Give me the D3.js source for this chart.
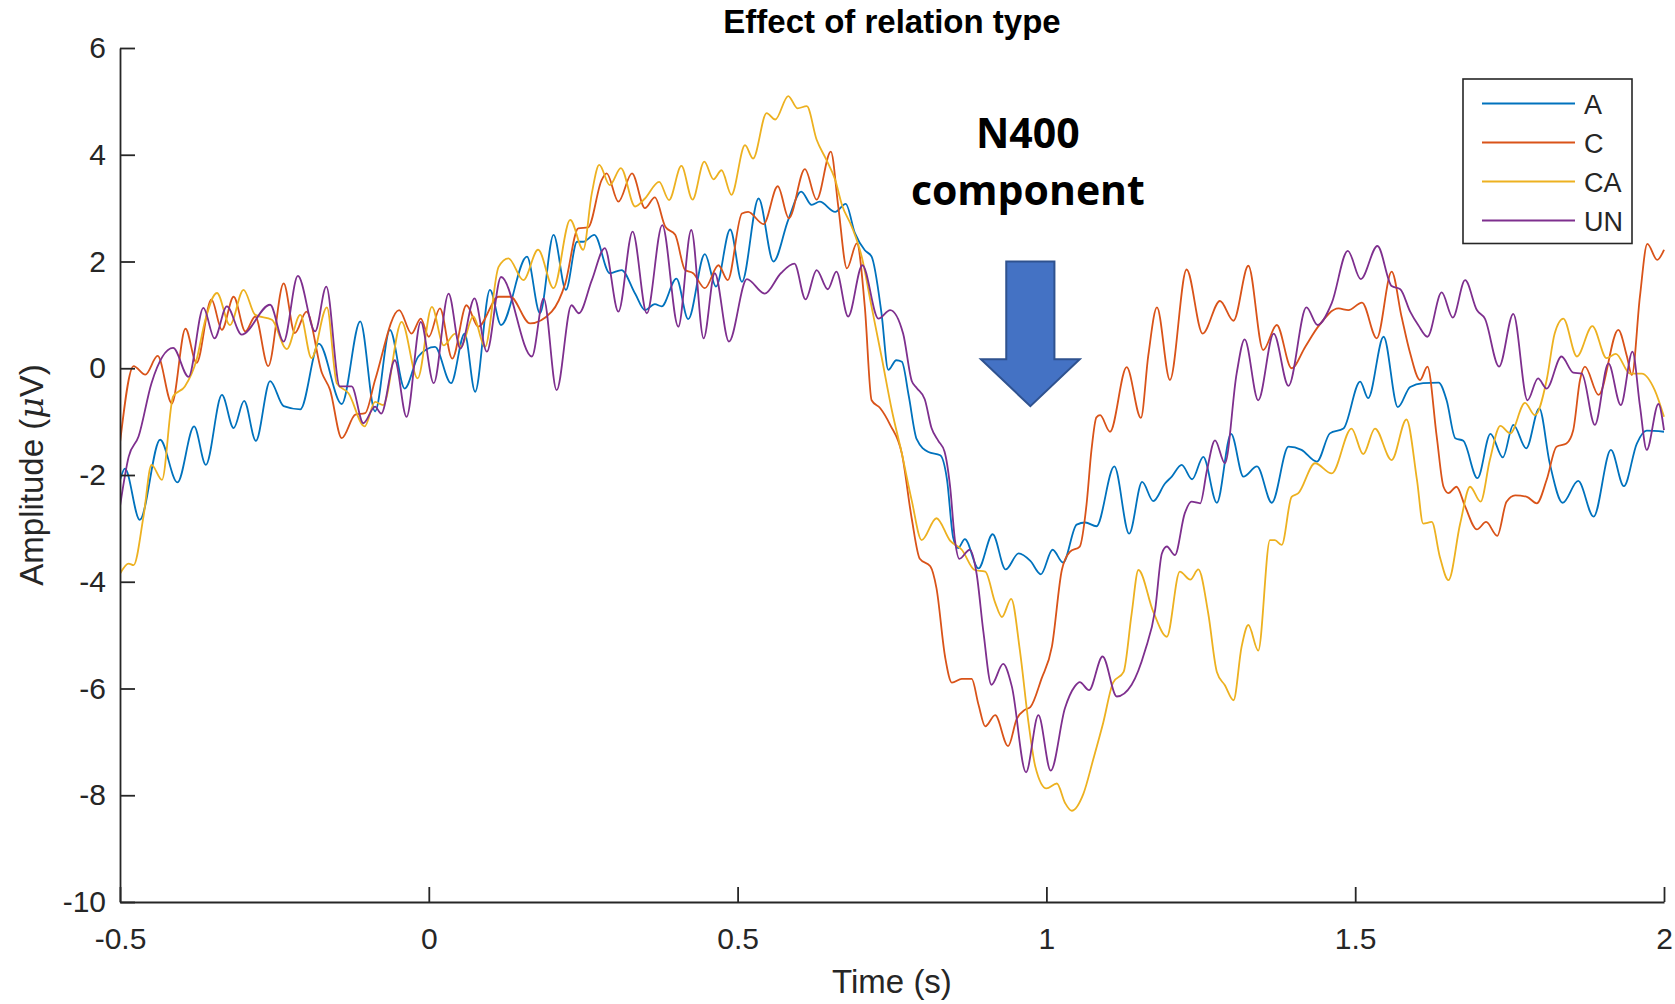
<!DOCTYPE html>
<html>
<head>
<meta charset="utf-8">
<script src="https://cdn.jsdelivr.net/npm/d3@7"></script>
<style>
  html, body { margin: 0; padding: 0; background: #ffffff; }
  svg { display: block; }
</style>
</head>
<body>
<script>
// ---------- DATA ----------
const seriesNames = ["A", "C", "CA", "UN"];
const seriesColors = ["#0072BD", "#D95319", "#EDB120", "#7E2F8E"];

const xTickValues = [-0.5, 0, 0.5, 1, 1.5, 2];
const xTickLabels = ["-0.5", "0", "0.5", "1", "1.5", "2"];
const yTickValues = [-10, -8, -6, -4, -2, 0, 2, 4, 6];
const yTickLabels = ["-10", "-8", "-6", "-4", "-2", "0", "2", "4", "6"];

// [time (s), amplitude (uV)]
const seriesA = [
[-0.500,-2.10],[-0.492,-1.88],[-0.468,-2.84],[-0.435,-1.34],[-0.407,-2.14],[-0.380,-1.09],[-0.361,-1.81],
[-0.335,-0.50],[-0.316,-1.12],[-0.299,-0.61],[-0.280,-1.36],[-0.257,-0.24],[-0.235,-0.71],[-0.208,-0.77],
[-0.178,0.46],[-0.141,-0.67],[-0.111,0.88],[-0.087,-0.81],[-0.063,0.72],[-0.039,-0.38],[-0.017,0.22],
[0.010,0.40],[0.036,-0.28],[0.058,0.65],[0.075,-0.44],[0.099,1.47],[0.117,0.81],[0.159,2.09],[0.180,1.03],
[0.202,2.50],[0.222,1.47],[0.240,2.37],[0.250,2.37],[0.268,2.50],[0.293,1.78],[0.312,1.84],[0.334,1.40],
[0.350,1.09],[0.366,1.20],[0.377,1.16],[0.401,1.68],[0.420,0.92],[0.447,2.14],[0.465,1.53],[0.488,2.60],
[0.507,1.62],[0.534,3.18],[0.558,2.00],[0.582,2.78],[0.603,3.31],[0.620,3.06],[0.633,3.12],[0.658,2.93],
[0.675,3.08],[0.690,2.53],[0.706,2.21],[0.717,2.09],[0.733,1.03],[0.744,-0.03],[0.757,0.15],[0.766,0.12],
[0.777,-0.51],[0.790,-1.33],[0.809,-1.57],[0.828,-1.63],[0.839,-2.08],[0.849,-3.17],[0.857,-3.37],[0.868,-3.20],
[0.890,-3.75],[0.913,-3.11],[0.934,-3.77],[0.955,-3.47],[0.974,-3.61],[0.991,-3.86],[1.010,-3.40],[1.027,-3.64],
[1.049,-2.93],[1.063,-2.89],[1.081,-2.96],[1.110,-1.84],[1.134,-3.10],[1.155,-2.13],[1.173,-2.49],[1.192,-2.16],
[1.203,-2.03],[1.219,-1.81],[1.236,-2.08],[1.254,-1.66],[1.276,-2.52],[1.299,-1.23],[1.319,-2.03],[1.341,-1.84],
[1.365,-2.52],[1.392,-1.47],[1.413,-1.53],[1.438,-1.75],[1.459,-1.22],[1.481,-1.13],[1.508,-0.25],[1.521,-0.56],
[1.546,0.59],[1.569,-0.73],[1.589,-0.35],[1.610,-0.28],[1.635,-0.27],[1.648,-0.60],[1.662,-1.31],[1.675,-1.36],
[1.698,-2.06],[1.719,-1.23],[1.739,-1.67],[1.756,-1.06],[1.777,-1.50],[1.798,-0.75],[1.815,-1.78],[1.836,-2.52],
[1.861,-2.11],[1.886,-2.78],[1.914,-1.53],[1.935,-2.21],[1.956,-1.41],[1.972,-1.17],[2.000,-1.19]
];

const seriesC = [
[-0.500,-1.40],[-0.478,0.04],[-0.459,-0.12],[-0.439,0.23],[-0.416,-0.66],[-0.394,0.74],[-0.376,0.10],
[-0.352,1.29],[-0.335,0.72],[-0.316,1.34],[-0.297,0.69],[-0.281,0.97],[-0.260,0.04],[-0.235,1.59],[-0.217,0.66],
[-0.198,1.06],[-0.173,-0.09],[-0.160,-0.40],[-0.141,-1.31],[-0.119,-0.87],[-0.103,-0.84],[-0.087,-0.22],
[-0.048,1.09],[-0.028,0.65],[-0.013,0.93],[0.000,0.59],[0.018,1.12],[0.038,0.18],[0.061,1.18],[0.080,0.78],
[0.113,1.34],[0.132,1.34],[0.164,0.84],[0.199,1.06],[0.221,1.59],[0.242,2.62],[0.258,2.64],[0.280,3.53],
[0.288,3.65],[0.307,3.12],[0.329,3.65],[0.350,3.00],[0.366,3.20],[0.383,2.65],[0.399,2.50],[0.415,1.84],
[0.428,1.78],[0.447,1.50],[0.469,1.93],[0.484,1.65],[0.507,2.90],[0.517,2.93],[0.542,2.70],[0.565,3.41],
[0.583,2.81],[0.609,3.73],[0.628,3.16],[0.651,4.06],[0.663,3.03],[0.677,1.87],[0.693,2.34],[0.706,1.15],
[0.717,-0.60],[0.731,-0.75],[0.747,-1.06],[0.766,-1.60],[0.782,-2.82],[0.795,-3.57],[0.812,-3.71],[0.822,-4.12],
[0.836,-5.41],[0.847,-5.89],[0.863,-5.82],[0.879,-5.82],[0.890,-6.30],[0.901,-6.71],[0.917,-6.50],[0.938,-7.08],
[0.952,-6.57],[0.965,-6.40],[0.974,-6.35],[0.992,-5.82],[1.009,-5.21],[1.025,-3.78],[1.038,-3.44],[1.054,-3.34],
[1.065,-2.55],[1.073,-1.53],[1.081,-0.92],[1.087,-0.88],[1.103,-1.19],[1.130,0.02],[1.153,-0.93],[1.165,0.24],
[1.179,1.14],[1.200,-0.22],[1.227,1.85],[1.253,0.65],[1.281,1.26],[1.303,0.89],[1.327,1.92],[1.351,0.34],
[1.373,0.81],[1.397,0.00],[1.419,0.40],[1.440,0.78],[1.473,1.12],[1.489,1.09],[1.511,1.23],[1.535,0.56],
[1.559,1.81],[1.575,0.97],[1.589,0.28],[1.605,-0.22],[1.617,0.03],[1.632,-1.28],[1.643,-2.22],[1.651,-2.34],
[1.664,-2.22],[1.678,-2.59],[1.697,-3.02],[1.712,-2.88],[1.730,-3.14],[1.745,-2.50],[1.759,-2.38],[1.778,-2.41],
[1.794,-2.53],[1.810,-2.09],[1.826,-1.47],[1.842,-1.41],[1.853,-1.16],[1.864,-0.22],[1.872,0.03],[1.894,-0.50],
[1.926,0.72],[1.940,0.22],[1.948,-0.13],[1.961,1.34],[1.973,2.33],[1.989,2.03],[2.000,2.22]
];

const seriesCA = [
[-0.500,-3.85],[-0.486,-3.66],[-0.478,-3.69],[-0.462,-2.78],[-0.449,-1.81],[-0.432,-2.09],[-0.414,-0.53],
[-0.395,-0.34],[-0.376,0.16],[-0.362,0.90],[-0.343,1.41],[-0.322,0.81],[-0.300,1.47],[-0.281,1.00],[-0.254,0.91],
[-0.230,0.36],[-0.208,1.00],[-0.190,0.19],[-0.165,1.14],[-0.149,-0.28],[-0.130,-0.47],[-0.104,-1.09],[-0.087,-0.63],
[-0.074,-0.69],[-0.044,0.87],[-0.018,-0.19],[0.005,1.15],[0.024,0.43],[0.043,0.65],[0.052,0.40],[0.072,0.97],
[0.091,0.40],[0.113,1.90],[0.129,2.06],[0.153,1.65],[0.177,2.22],[0.202,1.50],[0.229,2.78],[0.250,2.22],
[0.264,3.28],[0.276,3.81],[0.293,3.43],[0.311,3.75],[0.334,3.03],[0.350,3.18],[0.373,3.49],[0.389,3.15],
[0.409,3.79],[0.427,3.16],[0.446,3.87],[0.461,3.54],[0.474,3.71],[0.490,3.25],[0.512,4.18],[0.525,3.93],
[0.547,4.78],[0.561,4.66],[0.582,5.10],[0.597,4.87],[0.612,4.91],[0.628,4.28],[0.644,3.90],[0.658,3.53],
[0.669,3.06],[0.685,2.65],[0.701,2.09],[0.717,1.15],[0.733,0.22],[0.750,-0.80],[0.766,-1.60],[0.782,-2.48],
[0.798,-3.22],[0.822,-2.81],[0.844,-3.23],[0.863,-3.40],[0.884,-3.78],[0.901,-3.81],[0.917,-4.39],[0.928,-4.66],
[0.943,-4.32],[0.957,-5.28],[0.971,-6.64],[0.982,-7.46],[1.000,-7.87],[1.017,-7.78],[1.030,-8.14],[1.041,-8.29],
[1.060,-7.97],[1.076,-7.32],[1.092,-6.64],[1.108,-5.89],[1.125,-5.69],[1.138,-4.60],[1.149,-3.78],[1.173,-4.56],
[1.195,-5.03],[1.216,-3.81],[1.233,-3.96],[1.246,-3.77],[1.262,-4.59],[1.276,-5.69],[1.289,-5.94],[1.303,-6.22],
[1.316,-5.22],[1.327,-4.81],[1.343,-5.29],[1.362,-3.22],[1.370,-3.22],[1.381,-3.31],[1.397,-2.41],[1.408,-2.34],
[1.435,-1.78],[1.462,-1.97],[1.494,-1.13],[1.513,-1.61],[1.532,-1.13],[1.559,-1.72],[1.583,-0.96],[1.600,-2.09],
[1.610,-2.91],[1.624,-2.88],[1.637,-3.53],[1.651,-3.97],[1.670,-2.91],[1.686,-2.22],[1.703,-2.50],[1.718,-1.72],
[1.735,-1.08],[1.751,-1.22],[1.775,-0.65],[1.791,-0.88],[1.810,-0.22],[1.823,0.65],[1.837,0.93],[1.859,0.22],
[1.884,0.79],[1.907,0.19],[1.922,0.27],[1.945,-0.10],[1.964,-0.10],[1.985,-0.41],[2.000,-0.91]
];

const seriesUN = [
[-0.500,-2.59],[-0.486,-1.66],[-0.470,-1.28],[-0.449,-0.28],[-0.414,0.38],[-0.389,-0.16],[-0.365,1.13],
[-0.347,0.56],[-0.327,1.16],[-0.303,0.63],[-0.257,1.19],[-0.235,0.50],[-0.212,1.73],[-0.184,0.69],[-0.166,1.53],
[-0.144,-0.34],[-0.125,-0.34],[-0.106,-1.03],[-0.087,-0.72],[-0.077,-0.85],[-0.055,0.15],[-0.036,-0.91],
[-0.013,0.87],[0.008,-0.28],[0.032,1.40],[0.051,0.37],[0.074,1.31],[0.094,0.31],[0.117,1.71],[0.167,0.22],
[0.186,1.31],[0.207,-0.41],[0.231,1.18],[0.243,1.03],[0.264,1.65],[0.285,2.25],[0.307,1.06],[0.330,2.56],
[0.353,1.03],[0.378,2.68],[0.404,0.78],[0.425,2.59],[0.445,0.56],[0.463,1.78],[0.486,0.50],[0.515,1.67],
[0.544,1.40],[0.570,1.78],[0.592,1.96],[0.610,1.29],[0.628,1.84],[0.646,1.48],[0.660,1.81],[0.679,0.97],
[0.702,1.93],[0.728,0.93],[0.747,1.09],[0.768,0.65],[0.782,-0.24],[0.790,-0.37],[0.803,-0.58],[0.814,-1.12],
[0.825,-1.36],[0.835,-1.56],[0.844,-2.21],[0.852,-3.23],[0.859,-3.57],[0.876,-3.40],[0.887,-3.85],[0.898,-4.94],
[0.911,-5.93],[0.930,-5.54],[0.944,-5.96],[0.967,-7.57],[0.987,-6.50],[1.007,-7.54],[1.030,-6.37],[1.046,-5.96],
[1.054,-5.88],[1.069,-6.03],[1.091,-5.40],[1.114,-6.15],[1.138,-5.93],[1.160,-5.28],[1.176,-4.53],[1.187,-3.47],
[1.195,-3.34],[1.208,-3.50],[1.224,-2.72],[1.235,-2.50],[1.249,-2.53],[1.260,-1.91],[1.273,-1.35],[1.289,-1.78],
[1.308,-0.10],[1.321,0.54],[1.343,-0.60],[1.368,0.65],[1.392,-0.33],[1.421,1.14],[1.439,0.81],[1.462,1.22],
[1.488,2.20],[1.509,1.67],[1.536,2.29],[1.559,1.54],[1.573,1.48],[1.589,1.06],[1.602,0.81],[1.617,0.59],
[1.640,1.42],[1.658,0.95],[1.678,1.65],[1.697,1.09],[1.710,0.93],[1.733,0.03],[1.756,1.02],[1.779,-0.60],
[1.796,-0.19],[1.810,-0.38],[1.834,0.22],[1.853,-0.08],[1.867,-0.10],[1.888,-1.06],[1.910,0.09],[1.930,-0.69],
[1.949,0.31],[1.961,-0.70],[1.972,-1.53],[1.991,-0.67],[2.000,-1.16]
];

const allSeries = [seriesA, seriesC, seriesCA, seriesUN];

// Annotation (in data units)
const annotationLines = ["N400", "component"];
const annotationPos = { t: 0.970, v: [4.13, 3.06] };
const arrowSpec = { t: 0.974, top: 2.0, neck: 0.17, tip: -0.71, shaftHalf: 0.039, headHalf: 0.080 };

// ---------- LAYOUT ----------
const W = 1675, H = 1004;
const plot = { left: 120, right: 1664, top: 48, bottom: 902 };
const axisColor = "#262626";
const fontMain = "'Liberation Sans', Arial, Helvetica, sans-serif";

const svg = d3.select("body").append("svg")
  .attr("width", W).attr("height", H)
  .attr("viewBox", `0 0 ${W} ${H}`);
svg.append("rect").attr("width", W).attr("height", H).attr("fill", "#ffffff");

const x = d3.scaleLinear().domain([-0.5, 2]).range([plot.left, plot.right]);
const y = d3.scaleLinear().domain([-10, 6]).range([plot.bottom, plot.top]);

svg.append("defs").append("clipPath").attr("id", "clip")
  .append("rect")
  .attr("x", plot.left).attr("y", plot.top - 2)
  .attr("width", plot.right - plot.left + 2).attr("height", plot.bottom - plot.top + 2);

// Lines
const line = d3.line()
  .x(d => x(d[0]))
  .y(d => y(d[1]))
  .curve(d3.curveMonotoneX);

const gLines = svg.append("g").attr("clip-path", "url(#clip)");
allSeries.forEach((s, i) => {
  gLines.append("path")
    .datum(s)
    .attr("fill", "none")
    .attr("stroke", seriesColors[i])
    .attr("stroke-width", 1.8)
    .attr("stroke-linejoin", "round")
    .attr("d", line);
});

// Axes
const xAxis = d3.axisBottom(x)
  .tickValues(xTickValues)
  .tickFormat((d, i) => xTickLabels[i])
  .tickSizeInner(-15).tickSizeOuter(0).tickPadding(26);
const yAxis = d3.axisLeft(y)
  .tickValues(yTickValues)
  .tickFormat((d, i) => yTickLabels[i])
  .tickSizeInner(-15).tickSizeOuter(0).tickPadding(14);

function styleAxis(g) {
  g.selectAll("path.domain").attr("stroke", axisColor).attr("stroke-width", 1.8);
  g.selectAll(".tick line").attr("stroke", axisColor).attr("stroke-width", 1.8);
  g.selectAll(".tick text")
    .attr("fill", axisColor)
    .style("font-family", fontMain)
    .style("font-size", "30px");
}

svg.append("g").attr("transform", `translate(0,${plot.bottom})`).call(xAxis).call(styleAxis);
svg.append("g").attr("transform", `translate(${plot.left},0)`).call(yAxis).call(styleAxis);

// Title
svg.append("text")
  .attr("x", (plot.left + plot.right) / 2).attr("y", 33)
  .attr("text-anchor", "middle")
  .attr("fill", "#000000")
  .style("font-family", fontMain).style("font-size", "33px").style("font-weight", "bold")
  .text("Effect of relation type");

// X label
svg.append("text")
  .attr("x", (plot.left + plot.right) / 2).attr("y", 993)
  .attr("text-anchor", "middle")
  .attr("fill", axisColor)
  .style("font-family", fontMain).style("font-size", "33px")
  .text("Time (s)");

// Y label
const yl = svg.append("text")
  .attr("transform", `translate(43,${(plot.top + plot.bottom) / 2}) rotate(-90)`)
  .attr("text-anchor", "middle")
  .attr("fill", axisColor)
  .style("font-family", fontMain).style("font-size", "33px");
yl.append("tspan").text("Amplitude (");
yl.append("tspan").style("font-style", "italic").style("font-family", "'DejaVu Serif', serif").text("\u03BC");
yl.append("tspan").text("V)");

// Legend
const leg = { x0: 1463, y0: 79, x1: 1632, y1: 243.5, lineX0: 1482, lineX1: 1575, textX: 1584, firstY: 103.5, step: 39 };
svg.append("rect")
  .attr("x", leg.x0).attr("y", leg.y0)
  .attr("width", leg.x1 - leg.x0).attr("height", leg.y1 - leg.y0)
  .attr("fill", "#ffffff").attr("stroke", axisColor).attr("stroke-width", 1.6);
seriesNames.forEach((name, i) => {
  const yy = leg.firstY + i * leg.step;
  svg.append("line")
    .attr("x1", leg.lineX0).attr("x2", leg.lineX1)
    .attr("y1", yy).attr("y2", yy)
    .attr("stroke", seriesColors[i]).attr("stroke-width", 1.8);
  svg.append("text")
    .attr("x", leg.textX).attr("y", yy + 10)
    .attr("fill", axisColor)
    .style("font-family", fontMain).style("font-size", "27px")
    .text(name);
});

// Annotation text
annotationLines.forEach((txt, i) => {
  svg.append("text")
    .attr("x", x(annotationPos.t)).attr("y", y(annotationPos.v[i]))
    .attr("text-anchor", "middle")
    .attr("fill", "#000000")
    .style("font-family", "'Open Sans', 'Noto Sans', sans-serif")
    .style("font-size", "41px").style("font-weight", "700")
    .text(txt);
});

// Arrow
const a = arrowSpec;
const arrowPts = [
  [a.t - a.shaftHalf, a.top], [a.t + a.shaftHalf, a.top],
  [a.t + a.shaftHalf, a.neck], [a.t + a.headHalf, a.neck],
  [a.t, a.tip],
  [a.t - a.headHalf, a.neck], [a.t - a.shaftHalf, a.neck]
];
svg.append("path")
  .attr("d", d3.line().x(d => x(d[0])).y(d => y(d[1]))(arrowPts) + "Z")
  .attr("fill", "#4472C4")
  .attr("stroke", "#2F528F")
  .attr("stroke-width", 2)
  .attr("stroke-linejoin", "miter");
</script>
</body>
</html>
